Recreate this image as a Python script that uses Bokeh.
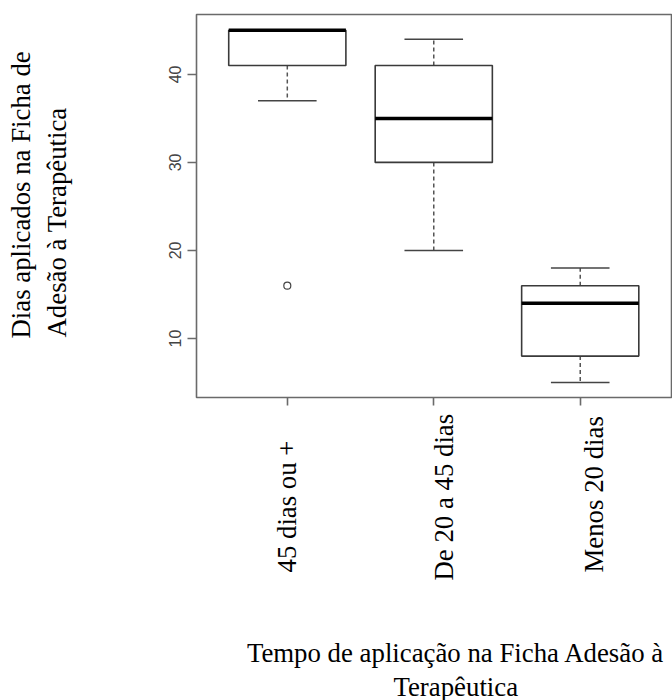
import math
from bokeh.plotting import figure
from bokeh.models import Range1d, FixedTicker
from bokeh.layouts import row, column
from bokeh.core.properties import value
from bokeh.embed import file_html
from bokeh.resources import INLINE

# ---- data ----
categories = ["45 dias ou  +", "De 20 a 45 dias", "Menos 20 dias"]
positions = [1, 2, 3]
q1 = [41, 30, 8]
median = [45, 35, 14]
q3 = [45, 41, 16]
whisker_low = [37, 20, 5]
whisker_high = [45, 44, 18]
outlier_x = [1]
outlier_y = [16]
y_ticks = [10, 20, 30, 40]

y_title_lines = ["Dias aplicados na Ficha de", "Adesão à Terapêutica"]
x_title_lines = ["Tempo de aplicação na Ficha Adesão à", "Terapêutica"]

SERIF = "Liberation Serif"
SANS = "Liberation Sans"
FRAME = "#6a6a6a"
BOXC = "#3a3a3a"
FS = "26.8px"

TOTAL_W, TOTAL_H = 672, 700
LEFT_W = 100          # strip holding the y title
TOP_H = 408           # main plot height
BOT_H = TOTAL_H - TOP_H

x_range = Range1d(0.38, 3.63)

def bare(fig):
    fig.grid.visible = False
    fig.axis.visible = False
    fig.outline_line_color = None
    fig.background_fill_color = "white"
    fig.border_fill_color = "white"

# ---- left strip: y title ----
yl = figure(width=LEFT_W, height=TOTAL_H, output_backend="svg", toolbar_location=None,
            x_range=Range1d(0, LEFT_W), y_range=Range1d(TOTAL_H, 0),
            min_border=0)
bare(yl)
yl.text(x=[20, 56], y=[338, 337], text=y_title_lines, angle=math.pi / 2,
        text_align="left", text_baseline="alphabetic",
        text_font=value(SERIF), text_font_size=FS, text_color="black")

# ---- main plot ----
p = figure(width=TOTAL_W - LEFT_W, height=TOP_H, output_backend="svg",
           toolbar_location=None, x_range=x_range, y_range=Range1d(3.3, 46.8),
           min_border_left=196 - LEFT_W, min_border_right=0, min_border_top=14,
           min_border_bottom=TOP_H - 397)
p.grid.visible = False
p.outline_line_color = FRAME
p.outline_line_width = 1.6
p.background_fill_color = "white"
p.border_fill_color = "white"

ya = p.yaxis[0]
ya.ticker = FixedTicker(ticks=y_ticks)
ya.axis_line_color = None
ya.major_tick_line_color = FRAME
ya.major_tick_line_width = 1.6
ya.major_tick_out = 9
ya.major_tick_in = 0
ya.minor_tick_line_color = None
ya.major_label_orientation = "vertical"
ya.major_label_text_font = SANS
ya.major_label_text_font_size = "16px"
ya.major_label_text_color = "#444444"
ya.major_label_standoff = 6

xa = p.xaxis[0]
xa.ticker = FixedTicker(ticks=positions)
xa.axis_line_color = None
xa.major_tick_line_color = FRAME
xa.major_tick_line_width = 1.6
xa.major_tick_out = 8
xa.major_tick_in = 0
xa.minor_tick_line_color = None
xa.major_label_overrides = {pos: "" for pos in positions}
xa.major_label_text_font_size = "1px"
xa.major_label_standoff = 0

half = 0.4
cap = 0.2
lefts = [x - half for x in positions]
rights = [x + half for x in positions]
cl = [x - cap for x in positions]
cr = [x + cap for x in positions]

p.segment(x0=positions, y0=q3, x1=positions, y1=whisker_high,
          line_color="#555555", line_width=1.5, line_dash="4 3")
p.segment(x0=positions, y0=q1, x1=positions, y1=whisker_low,
          line_color="#555555", line_width=1.5, line_dash="4 3")
p.segment(x0=cl, y0=whisker_high, x1=cr, y1=whisker_high,
          line_color="#444444", line_width=1.5)
p.segment(x0=cl, y0=whisker_low, x1=cr, y1=whisker_low,
          line_color="#444444", line_width=1.5)
p.quad(left=lefts, right=rights, bottom=q1, top=q3,
       fill_color="white", line_color=BOXC, line_width=1.6)
p.segment(x0=lefts, y0=median, x1=rights, y1=median,
          line_color="black", line_width=3.5)
p.scatter(x=outlier_x, y=outlier_y, marker="circle", size=7,
          fill_color=None, line_color="#444444", line_width=1.2)

# ---- bottom strip: category labels and x title ----
q = figure(width=TOTAL_W - LEFT_W, height=BOT_H, output_backend="svg",
           toolbar_location=None, x_range=x_range,
           y_range=Range1d(TOTAL_H, TOP_H),
           min_border_left=196 - LEFT_W, min_border_right=0,
           min_border_top=0, min_border_bottom=0)
bare(q)
q.text(x=positions, y=[572, 580, 572], x_offset=[0, 10, 14], text=categories,
       angle=math.pi / 2, text_align="left", text_baseline="alphabetic",
       text_font=value(SERIF), text_font_size=FS, text_color="black")
q.text(x=[positions[1], positions[1]], y=[652, 686], x_offset=[22, 22],
       text=x_title_lines, text_align="center", text_baseline="alphabetic",
       text_font=value(SERIF), text_font_size=FS, text_color="black")

layout = row(yl, column(p, q, spacing=0), spacing=0)
open("out.html", "w").write(file_html(layout, INLINE))
